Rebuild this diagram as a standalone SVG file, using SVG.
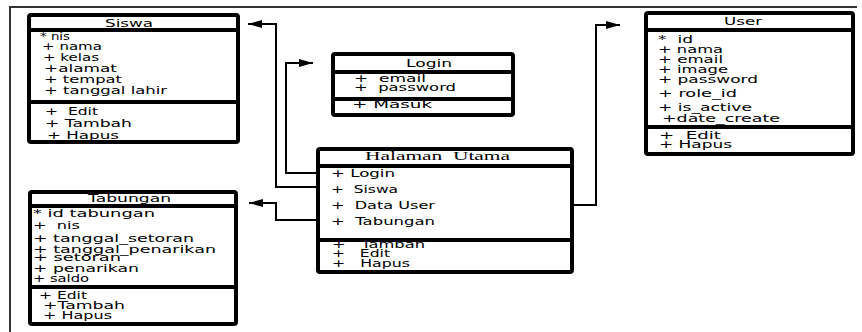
<svg xmlns="http://www.w3.org/2000/svg" width="862" height="332" viewBox="0 0 862 332">
<style>
.box{fill:#fff;stroke:#000;stroke-width:4;}
.div{stroke:#000;stroke-width:4;}
.t{font-family:"DejaVu Sans","Liberation Sans",sans-serif;font-size:10px;fill:#000;white-space:pre;}
.s{font-family:"Liberation Serif","DejaVu Serif",serif;font-size:12px;fill:#000;white-space:pre;}
.c{fill:none;stroke:#000;stroke-width:2;}
.frame{fill:none;stroke:#333;stroke-width:2;}
</style>
<defs>
<marker id="ah" markerUnits="userSpaceOnUse" markerWidth="14" markerHeight="8" refX="14" refY="4" orient="auto">
<path d="M0,0 L14,4 L0,8 z" fill="#000"/>
</marker>
</defs>
<path class="frame" d="M10,332 V7 H857"/>
<g id="connectors">
<path class="c" d="M317,187 H276 V24 H248" marker-end="url(#ah)"/>
<path class="c" d="M317,173 H286 V63 H313" marker-end="url(#ah)"/>
<path class="c" d="M317,220 H276 V203 H249" marker-end="url(#ah)"/>
<path class="c" d="M573,205 H596 V25 H620" marker-end="url(#ah)"/>
</g>
<g id="siswa">
<rect class="box" x="29" y="15" width="209" height="127" rx="2"/>
<line class="div" x1="29" y1="30" x2="238" y2="30"/>
<line class="div" x1="29" y1="102" x2="238" y2="102"/>
<text class="t" x="105" y="27" textLength="48" lengthAdjust="spacingAndGlyphs">Siswa</text>
<text class="t" x="40" y="40" textLength="30" lengthAdjust="spacingAndGlyphs">* nis</text>
<text class="t" x="42" y="50" textLength="60" lengthAdjust="spacingAndGlyphs">+ nama</text>
<text class="t" x="43" y="61" textLength="56" lengthAdjust="spacingAndGlyphs">+ kelas</text>
<text class="t" x="44" y="72" textLength="73" lengthAdjust="spacingAndGlyphs">+alamat</text>
<text class="t" x="44" y="83" textLength="78" lengthAdjust="spacingAndGlyphs">+ tempat</text>
<text class="t" x="44" y="94" textLength="123" lengthAdjust="spacingAndGlyphs">+ tanggal lahir</text>
<text class="t" x="45" y="115" textLength="53" lengthAdjust="spacingAndGlyphs">+  Edit</text>
<text class="t" x="45" y="127" textLength="87" lengthAdjust="spacingAndGlyphs">+ Tambah</text>
<text class="t" x="47" y="139" textLength="72" lengthAdjust="spacingAndGlyphs">+ Hapus</text>
</g>
<g id="login">
<rect class="box" x="333" y="54" width="180" height="61" rx="2"/>
<line class="div" x1="333" y1="72" x2="513" y2="72"/>
<line class="div" x1="333" y1="99" x2="513" y2="99"/>
<text class="t" x="406" y="67" textLength="46" lengthAdjust="spacingAndGlyphs">Login</text>
<text class="t" x="354" y="82" textLength="72" lengthAdjust="spacingAndGlyphs">+  email</text>
<text class="t" x="354" y="91" textLength="102" lengthAdjust="spacingAndGlyphs">+  password</text>
<text class="t" x="352" y="108" textLength="80" lengthAdjust="spacingAndGlyphs">+ Masuk</text>
</g>
<g id="halaman-utama">
<rect class="box" x="318" y="149" width="254" height="123" rx="2"/>
<line class="div" x1="318" y1="166" x2="572" y2="166"/>
<line class="div" x1="318" y1="240" x2="572" y2="240"/>
<text class="s" x="365" y="160" textLength="145" lengthAdjust="spacingAndGlyphs">Halaman  Utama</text>
<text class="t" x="331" y="177" textLength="64" lengthAdjust="spacingAndGlyphs">+ Login</text>
<text class="t" x="331" y="193" textLength="67" lengthAdjust="spacingAndGlyphs">+  Siswa</text>
<text class="t" x="331" y="209" textLength="104" lengthAdjust="spacingAndGlyphs">+  Data User</text>
<text class="t" x="331" y="225" textLength="104" lengthAdjust="spacingAndGlyphs">+  Tabungan</text>
<text class="t" x="332" y="248" textLength="93" lengthAdjust="spacingAndGlyphs">+   Tambah</text>
<text class="t" x="332" y="257" textLength="58" lengthAdjust="spacingAndGlyphs">+   Edit</text>
<text class="t" x="332" y="267" textLength="78" lengthAdjust="spacingAndGlyphs">+   Hapus</text>
</g>
<g id="user">
<rect class="box" x="646" y="13" width="207" height="141" rx="2"/>
<line class="div" x1="646" y1="30" x2="853" y2="30"/>
<line class="div" x1="646" y1="127" x2="853" y2="127"/>
<text class="t" x="724" y="25" textLength="38" lengthAdjust="spacingAndGlyphs">User</text>
<text class="t" x="658" y="43" textLength="35" lengthAdjust="spacingAndGlyphs">*  id</text>
<text class="t" x="658" y="53" textLength="65" lengthAdjust="spacingAndGlyphs">+ nama</text>
<text class="t" x="658" y="63" textLength="65" lengthAdjust="spacingAndGlyphs">+ email</text>
<text class="t" x="658" y="73" textLength="70" lengthAdjust="spacingAndGlyphs">+ image</text>
<text class="t" x="658" y="83" textLength="100" lengthAdjust="spacingAndGlyphs">+ password</text>
<text class="t" x="658" y="97" textLength="79" lengthAdjust="spacingAndGlyphs">+ role_id</text>
<text class="t" x="658" y="111" textLength="94" lengthAdjust="spacingAndGlyphs">+ is_active</text>
<text class="t" x="662" y="122" textLength="118" lengthAdjust="spacingAndGlyphs">+date_create</text>
<text class="t" x="659" y="139" textLength="62" lengthAdjust="spacingAndGlyphs">+  Edit</text>
<text class="t" x="659" y="148" textLength="73" lengthAdjust="spacingAndGlyphs">+ Hapus</text>
</g>
<g id="tabungan">
<rect class="box" x="30" y="192" width="206" height="132" rx="2"/>
<line class="div" x1="30" y1="206" x2="236" y2="206"/>
<line class="div" x1="30" y1="287" x2="236" y2="287"/>
<text class="t" x="88" y="202" textLength="83" lengthAdjust="spacingAndGlyphs">Tabungan</text>
<text class="t" x="33" y="217" textLength="122" lengthAdjust="spacingAndGlyphs">* id tabungan</text>
<text class="t" x="33" y="229" textLength="47" lengthAdjust="spacingAndGlyphs">+  nis</text>
<text class="t" x="33" y="242" textLength="161" lengthAdjust="spacingAndGlyphs">+ tanggal_setoran</text>
<text class="t" x="33" y="253" textLength="183" lengthAdjust="spacingAndGlyphs">+ tanggal_penarikan</text>
<text class="t" x="33" y="261" textLength="88" lengthAdjust="spacingAndGlyphs">+ setoran</text>
<text class="t" x="33" y="272" textLength="106" lengthAdjust="spacingAndGlyphs">+ penarikan</text>
<text class="t" x="33" y="282" textLength="56" lengthAdjust="spacingAndGlyphs">+ saldo</text>
<text class="t" x="39" y="299" textLength="48" lengthAdjust="spacingAndGlyphs">+ Edit</text>
<text class="t" x="43" y="309" textLength="82" lengthAdjust="spacingAndGlyphs">+Tambah</text>
<text class="t" x="43" y="319" textLength="69" lengthAdjust="spacingAndGlyphs">+ Hapus</text>
</g>
</svg>
